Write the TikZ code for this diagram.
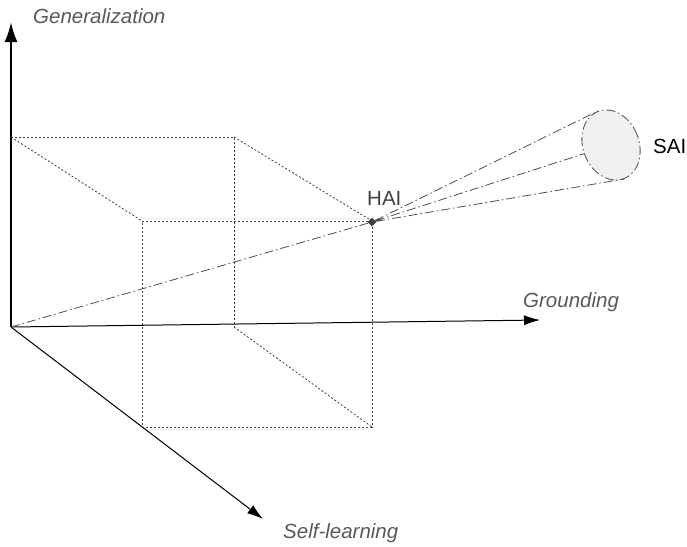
\documentclass[tikz,border=0pt]{standalone}
\usepackage{fontspec}
\setmainfont{Liberation Sans}
\usetikzlibrary{arrows.meta, positioning, shapes.geometric}

\tikzset{
	axis/.style={line width=1pt, -{Latex[length=16pt, width=10pt]}},
	cube/.style={draw=black!75, line width=0.8pt, dash pattern=on 2pt off 2pt},
	ray/.style={draw=black!70, line width=0.8pt, dash pattern=on 9pt off 3pt on 1.5pt off 3pt},
	dimname/.style={font=\fontsize{20.5}{24}\selectfont\itshape, text=black!65, inner sep=0pt, anchor=base west},
	ainame/.style={font=\fontsize{20.5}{24}\selectfont, inner sep=0pt, anchor=base west}
}

\begin{document}
\begin{tikzpicture}[x=1pt, y=-1pt]
	\useasboundingbox (0,0) rectangle (687,546);

	% axes
	\coordinate (o) at (11,327);
	\coordinate (gen) at (11,22);
	\coordinate (gro) at (540,320);
	\coordinate (sel) at (263,519);

	% corners of the box
	\coordinate (b1) at (11,137);
	\coordinate (b2) at (234,137);
	\coordinate (b3) at (234,327);
	\coordinate (f1) at (142,221);
	\coordinate (f2) at (372,221);
	\coordinate (f3) at (372,427);
	\coordinate (f4) at (142,427);

	\draw[cube] (b1) -- (b2) -- (b3);
	\draw[cube] (f1) -- (f2) -- (f3) -- (f4) -- cycle;
	\draw[cube]
		(b1) -- (f1)
		(b2) -- (f2)
		(b3) -- (f3);

	\draw[axis, line width=2.5pt, -{Latex[length=20pt, width=13pt]}] (o) -- (gen);
	\draw[axis] (o) -- (gro);
	\draw[axis] (o) -- (sel);

	\node[dimname] (genlabel) at (33,23) {Generalization};
	\node[dimname] (grolabel) at (523,307) {Grounding};
	\node[dimname] (sellabel) at (283,538) {Self-learning};

	% human and super AI
	\node[diamond, fill=black!75, inner sep=0pt, minimum size=9pt] (hai) at (372,222) {};
	\node[ellipse, ray, fill=black!6, minimum width=56pt, minimum height=72pt, rotate=21] (sai) at (611,145) {};
	\node[ainame, text=black!75] (hailabel) at (367,205) {HAI};
	\node[ainame] (sailabel) at (653,153) {SAI};

	\draw[ray]
		(o) -- (hai)
		(hai) -- (sai.north)
		(hai) -- (sai)
		(hai) -- (sai.south);
\end{tikzpicture}
\end{document}
